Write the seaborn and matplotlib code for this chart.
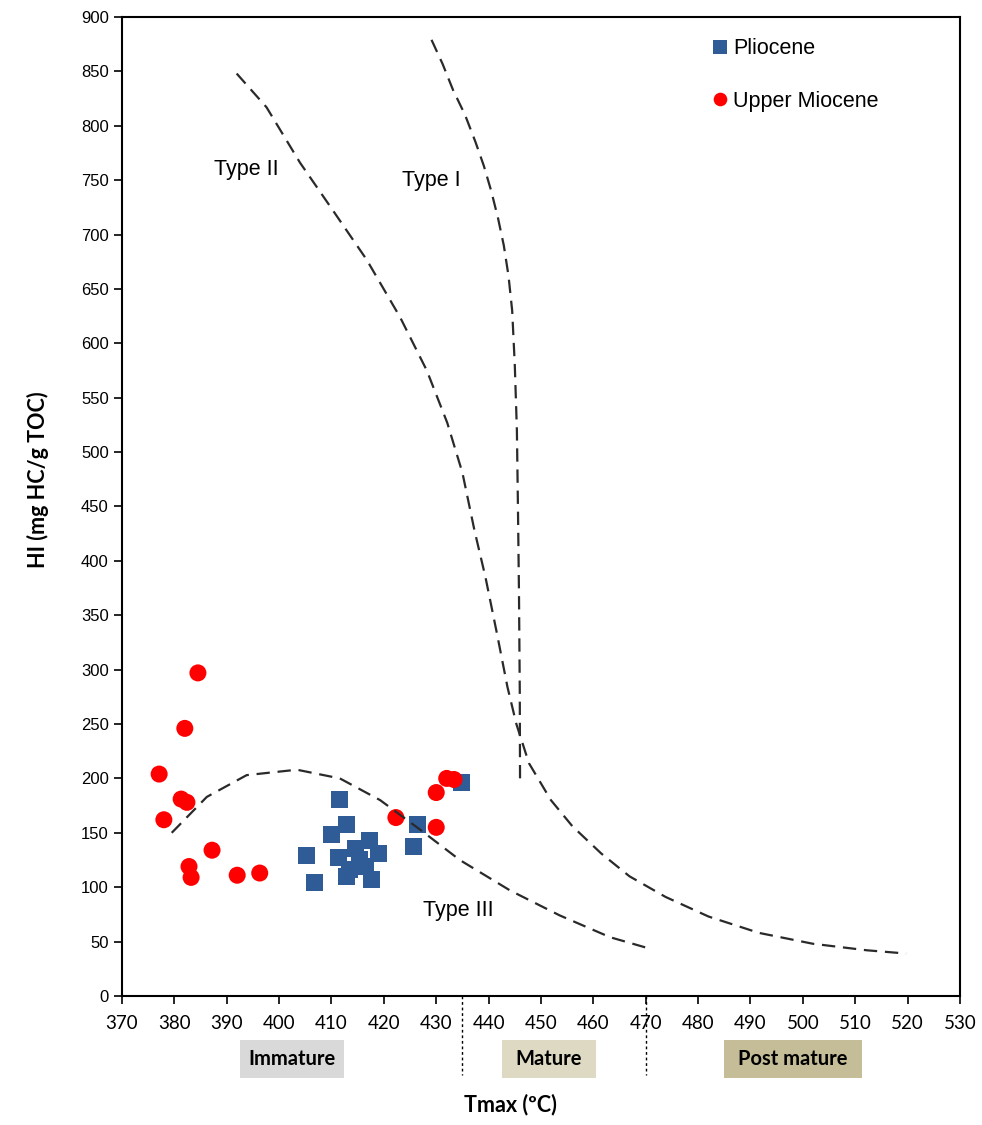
import numpy as np
import pandas as pd
import matplotlib
matplotlib.use("Agg")
import matplotlib.pyplot as plt
import matplotlib.transforms as mtransforms
from matplotlib.patches import Rectangle
import seaborn as sns

# Pliocene samples (Tmax, HI)
plio_tmax = [411.6, 412.9, 410.0, 405.3, 406.8, 411.3, 414.5, 417.2, 419.0,
             415.4, 413.5, 412.9, 417.7, 416.4, 434.8, 426.4, 425.6]
plio_hi = [181, 158, 148, 129, 104, 127, 136, 143, 131,
           125, 116, 110, 107, 119, 196, 158, 137]

# Upper Miocene samples
mio_tmax = [384.5, 382.0, 377.1, 381.3, 382.4, 378.0, 387.2, 382.8, 383.2,
            392.0, 396.3, 422.3, 430.0, 432.0, 433.4, 430.0]
mio_hi = [297, 246, 204, 181, 178, 162, 134, 119, 109,
          111, 113, 164, 187, 200, 199, 155]

# kerogen type boundary curves
t1_x = [429.1, 431.2, 433.2, 435.5, 437.5, 439.1, 440.5, 441.8, 442.9, 443.8, 444.5,
        445.0, 445.4, 445.6, 445.8, 445.95, 446.0]
t1_y = [879, 857, 833, 810, 785, 763, 740, 715, 690, 662, 630,
        580, 520, 450, 370, 280, 200]

t2_x = [391.9, 397.6, 404.0, 410.3, 416.7, 423.1, 428.2, 432.1, 435.0, 437.3, 439.4, 441.6,
        443.6, 445.3, 447.7, 451.9, 456.0, 461.5, 466.9, 473.8, 482.0, 491.6, 501.9, 512.2, 519.7]
t2_y = [848, 817, 766, 722, 677, 624, 575, 527, 481, 428, 385, 333,
        284, 250, 214, 180, 156, 131, 110, 91, 73, 58, 48, 42, 39]

t3_x = [379.5, 386.2, 393.8, 403.4, 411.6, 419.3, 426.9, 434.5, 444.1, 453.6, 463.2, 470.4]
t3_y = [150, 183, 203, 208, 200, 180, 153, 125, 97, 74, 54, 44]

# maturity zones below the axis
zone_names = ["Immature", "Mature", "Post mature"]
zone_start = [392.5, 442.6, 484.9]
zone_end = [412.4, 460.5, 511.3]
zone_colors = ["#d9d9d9", "#ddd9c3", "#c4bd97"]
zone_breaks = [435, 470]

sns.set_style("ticks")
plt.rcParams['font.family'] = ['Liberation Sans', 'DejaVu Sans']
plt.rcParams['text.color'] = 'black'
plt.rcParams['axes.labelcolor'] = 'black'
plt.rcParams['xtick.color'] = 'black'
plt.rcParams['ytick.color'] = 'black'
narrow = ['Lato', 'DejaVu Sans']

df = pd.DataFrame({
    "Tmax": plio_tmax + mio_tmax,
    "HI": plio_hi + mio_hi,
    "grp": ["Pliocene"] * len(plio_tmax) + ["Upper Miocene"] * len(mio_tmax),
})

fig = plt.figure(figsize=(9.82, 11.25), dpi=100)
ax = fig.add_axes([0.1242, 0.1147, 0.8534, 0.8702])

sns.scatterplot(data=df, x="Tmax", y="HI", hue="grp", style="grp",
                markers={"Pliocene": "s", "Upper Miocene": "o"},
                palette={"Pliocene": "#2f5b97", "Upper Miocene": "#ff0000"},
                s=150, linewidth=0, ax=ax, zorder=3)

# type curves
for xs, ys in [(t1_x, t1_y), (t2_x, t2_y), (t3_x, t3_y)]:
    cdf = pd.DataFrame({"x": xs, "y": ys})
    sns.lineplot(data=cdf, x="x", y="y", sort=False, estimator=None, color="#2a2a2a",
                 linestyle=(0, (6, 3.5)), linewidth=1.6, ax=ax, zorder=4)

ax.text(393.7, 760, "Type II", fontsize=15.5, ha="center", va="center")
ax.text(429.0, 750, "Type I", fontsize=15.5, ha="center", va="center")
ax.text(434.2, 79, "Type III", fontsize=15.5, ha="center", va="center")

ax.set_xlim(370, 530)
ax.set_ylim(0, 900)
ax.set_xticks(np.arange(370, 531, 10))
ax.set_yticks(np.arange(0, 901, 50))
ax.tick_params(axis="both", direction="out", length=6, width=1.2, color="black")
ax.tick_params(axis="x", labelsize=13.5, pad=8)
ax.tick_params(axis="y", labelsize=12)
for lab in ax.get_xticklabels():
    lab.set_family(narrow)
for sp in ax.spines.values():
    sp.set_color("black")
    sp.set_linewidth(1.5)
ax.set_xlabel("")
ax.set_ylabel("")

leg = ax.legend(loc="upper left", bbox_to_anchor=(0.688, 0.987), frameon=False,
                fontsize=15.5, handletextpad=0.0, handlelength=1.2, labelspacing=1.45,
                markerscale=0.8, borderaxespad=0)

trans = mtransforms.blended_transform_factory(ax.transData, ax.transAxes)
for name, a, b, c in zip(zone_names, zone_start, zone_end, zone_colors):
    ax.add_patch(Rectangle((a, -0.0838), b - a, 0.039, transform=trans,
                           facecolor=c, edgecolor="none", clip_on=False))
    ax.text((a + b) / 2, -0.064, name, transform=trans, ha="center", va="center",
            fontsize=14.5, fontweight="bold", family=narrow)
for xb in zone_breaks:
    ax.plot([xb, xb], [0, -0.081], transform=trans, color="black", linestyle=(0, (2, 2)),
            linewidth=1, clip_on=False)

fig.text(510 / 982, 1 - 1105 / 1125, "Tmax (ºC)", ha="center", va="center", fontsize=15.5,
         fontweight="bold", family=narrow)
fig.text(38 / 982, 1 - 480 / 1125, "HI (mg HC/g TOC)", ha="center", va="center", fontsize=15.5,
         fontweight="bold", rotation=90, family=narrow)

fig.savefig("out.png", dpi=100)
